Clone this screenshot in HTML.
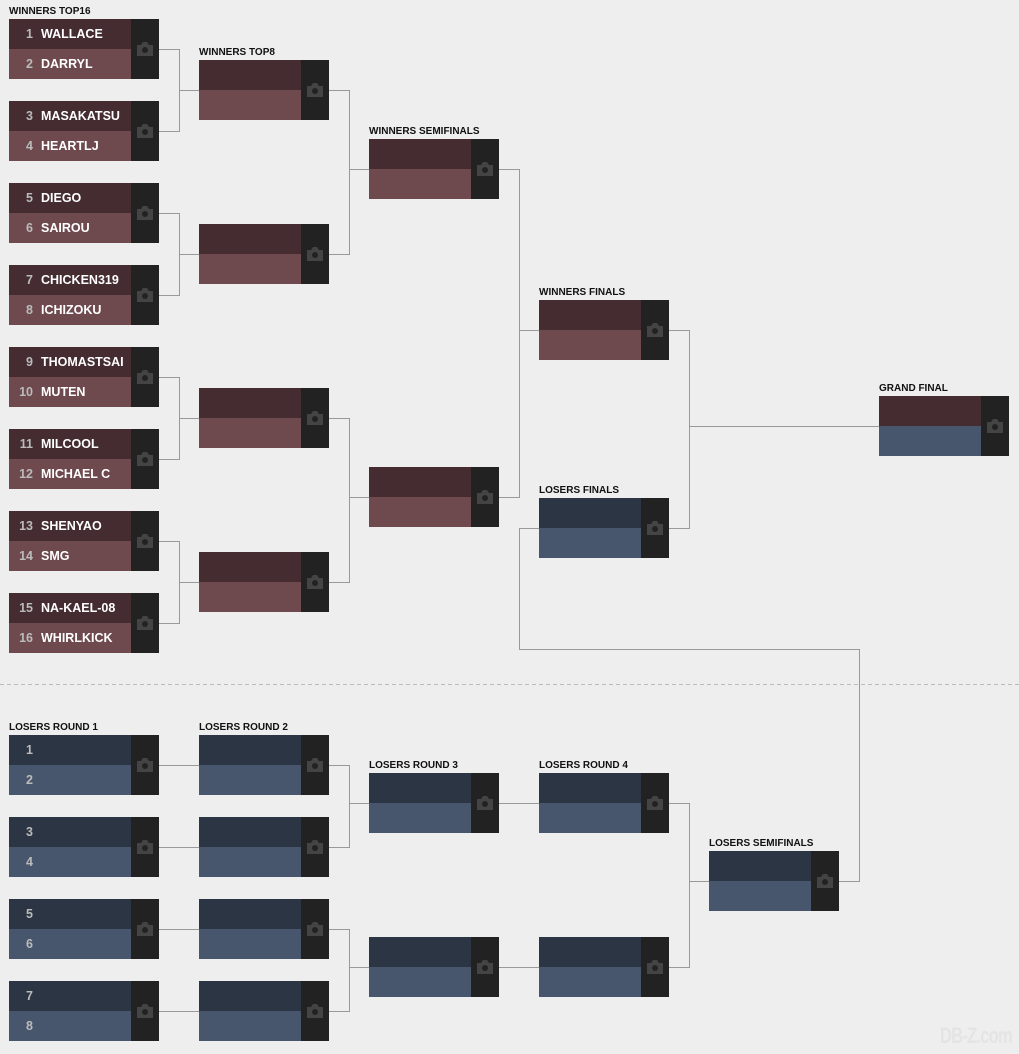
<!DOCTYPE html>
<html><head><meta charset="utf-8"><style>
body{margin:0;width:1019px;height:1054px;background:#eeeeee;position:relative;overflow:hidden;font-family:"Liberation Sans",sans-serif;}
.m{position:absolute;width:150px;height:60px;}
.m.s{width:130px;}
.t,.b{position:absolute;left:0;height:30px;width:122px;color:#fff;font-size:12.5px;font-weight:bold;line-height:30px;white-space:nowrap;overflow:hidden;}
.s .t,.s .b{width:102px;}
.t{top:0;background:#442c31;}
.b{top:30px;background:#6e4a4f;}
.L .t{background:#2c3544;}
.L .b{background:#47566c;}
.c{position:absolute;right:0;top:0;width:28px;height:60px;background:#222;}
.c svg{position:absolute;left:5px;top:22px;}
.n{display:inline-block;width:24px;text-align:right;color:#bbb;margin-right:8px;}
.lb{position:absolute;font-size:10px;font-weight:bold;color:#111;white-space:nowrap;}
</style></head><body>
<svg width="1019" height="1054" style="position:absolute;left:0;top:0" fill="none" stroke="#999" stroke-width="1">
<line x1="0" y1="684.5" x2="1019" y2="684.5" stroke="#bbb" stroke-dasharray="4,3"/>
<path d="M159 49.5H179.5V131.5H159M179.5 90.5H199"/>
<path d="M159 213.5H179.5V295.5H159M179.5 254.5H199"/>
<path d="M159 377.5H179.5V459.5H159M179.5 418.5H199"/>
<path d="M159 541.5H179.5V623.5H159M179.5 582.5H199"/>
<path d="M329 90.5H349.5V254.5H329M349.5 169.5H369"/>
<path d="M329 418.5H349.5V582.5H329M349.5 497.5H369"/>
<path d="M499 169.5H519.5V497.5H499M519.5 330.5H539"/>
<path d="M669 330.5H689.5V528.5H669M689.5 426.5H879"/>
<path d="M839 881.5H859.5V649.5H519.5V528.5H539"/>
<path d="M159 765.5H199M159 847.5H199M159 929.5H199M159 1011.5H199"/>
<path d="M329 765.5H349.5V847.5H329M349.5 803.5H369"/>
<path d="M329 929.5H349.5V1011.5H329M349.5 967.5H369"/>
<path d="M499 803.5H539M499 967.5H539"/>
<path d="M669 803.5H689.5V967.5H669M689.5 881.5H709"/>
</svg>

<div class="lb" style="left:9px;top:6px">WINNERS TOP16</div>
<div class="lb" style="left:199px;top:47px">WINNERS TOP8</div>
<div class="lb" style="left:369px;top:126px">WINNERS SEMIFINALS</div>
<div class="lb" style="left:539px;top:287px">WINNERS FINALS</div>
<div class="lb" style="left:539px;top:485px">LOSERS FINALS</div>
<div class="lb" style="left:879px;top:383px">GRAND FINAL</div>
<div class="lb" style="left:9px;top:722px">LOSERS ROUND 1</div>
<div class="lb" style="left:199px;top:722px">LOSERS ROUND 2</div>
<div class="lb" style="left:369px;top:760px">LOSERS ROUND 3</div>
<div class="lb" style="left:539px;top:760px">LOSERS ROUND 4</div>
<div class="lb" style="left:709px;top:838px">LOSERS SEMIFINALS</div>

<div class="m" style="left:9px;top:19px"><div class="t"><span class="n">1</span>WALLACE</div><div class="b"><span class="n">2</span>DARRYL</div><div class="c"><svg width="18" height="16" viewBox="0 0 18 16"><path d="M1 4h4l2-3h4l2 3h4v11H1z" fill="#444" stroke="none"/><circle cx="9" cy="9" r="3" fill="#222" stroke="none"/></svg></div></div>
<div class="m" style="left:9px;top:101px"><div class="t"><span class="n">3</span>MASAKATSU</div><div class="b"><span class="n">4</span>HEARTLJ</div><div class="c"><svg width="18" height="16" viewBox="0 0 18 16"><path d="M1 4h4l2-3h4l2 3h4v11H1z" fill="#444" stroke="none"/><circle cx="9" cy="9" r="3" fill="#222" stroke="none"/></svg></div></div>
<div class="m" style="left:9px;top:183px"><div class="t"><span class="n">5</span>DIEGO</div><div class="b"><span class="n">6</span>SAIROU</div><div class="c"><svg width="18" height="16" viewBox="0 0 18 16"><path d="M1 4h4l2-3h4l2 3h4v11H1z" fill="#444" stroke="none"/><circle cx="9" cy="9" r="3" fill="#222" stroke="none"/></svg></div></div>
<div class="m" style="left:9px;top:265px"><div class="t"><span class="n">7</span>CHICKEN319</div><div class="b"><span class="n">8</span>ICHIZOKU</div><div class="c"><svg width="18" height="16" viewBox="0 0 18 16"><path d="M1 4h4l2-3h4l2 3h4v11H1z" fill="#444" stroke="none"/><circle cx="9" cy="9" r="3" fill="#222" stroke="none"/></svg></div></div>
<div class="m" style="left:9px;top:347px"><div class="t"><span class="n">9</span>THOMASTSAI</div><div class="b"><span class="n">10</span>MUTEN</div><div class="c"><svg width="18" height="16" viewBox="0 0 18 16"><path d="M1 4h4l2-3h4l2 3h4v11H1z" fill="#444" stroke="none"/><circle cx="9" cy="9" r="3" fill="#222" stroke="none"/></svg></div></div>
<div class="m" style="left:9px;top:429px"><div class="t"><span class="n">11</span>MILCOOL</div><div class="b"><span class="n">12</span>MICHAEL C</div><div class="c"><svg width="18" height="16" viewBox="0 0 18 16"><path d="M1 4h4l2-3h4l2 3h4v11H1z" fill="#444" stroke="none"/><circle cx="9" cy="9" r="3" fill="#222" stroke="none"/></svg></div></div>
<div class="m" style="left:9px;top:511px"><div class="t"><span class="n">13</span>SHENYAO</div><div class="b"><span class="n">14</span>SMG</div><div class="c"><svg width="18" height="16" viewBox="0 0 18 16"><path d="M1 4h4l2-3h4l2 3h4v11H1z" fill="#444" stroke="none"/><circle cx="9" cy="9" r="3" fill="#222" stroke="none"/></svg></div></div>
<div class="m" style="left:9px;top:593px"><div class="t"><span class="n">15</span>NA-KAEL-08</div><div class="b"><span class="n">16</span>WHIRLKICK</div><div class="c"><svg width="18" height="16" viewBox="0 0 18 16"><path d="M1 4h4l2-3h4l2 3h4v11H1z" fill="#444" stroke="none"/><circle cx="9" cy="9" r="3" fill="#222" stroke="none"/></svg></div></div>

<div class="m s" style="left:199px;top:60px"><div class="t"></div><div class="b"></div><div class="c"><svg width="18" height="16" viewBox="0 0 18 16"><path d="M1 4h4l2-3h4l2 3h4v11H1z" fill="#444" stroke="none"/><circle cx="9" cy="9" r="3" fill="#222" stroke="none"/></svg></div></div>
<div class="m s" style="left:199px;top:224px"><div class="t"></div><div class="b"></div><div class="c"><svg width="18" height="16" viewBox="0 0 18 16"><path d="M1 4h4l2-3h4l2 3h4v11H1z" fill="#444" stroke="none"/><circle cx="9" cy="9" r="3" fill="#222" stroke="none"/></svg></div></div>
<div class="m s" style="left:199px;top:388px"><div class="t"></div><div class="b"></div><div class="c"><svg width="18" height="16" viewBox="0 0 18 16"><path d="M1 4h4l2-3h4l2 3h4v11H1z" fill="#444" stroke="none"/><circle cx="9" cy="9" r="3" fill="#222" stroke="none"/></svg></div></div>
<div class="m s" style="left:199px;top:552px"><div class="t"></div><div class="b"></div><div class="c"><svg width="18" height="16" viewBox="0 0 18 16"><path d="M1 4h4l2-3h4l2 3h4v11H1z" fill="#444" stroke="none"/><circle cx="9" cy="9" r="3" fill="#222" stroke="none"/></svg></div></div>
<div class="m s" style="left:369px;top:139px"><div class="t"></div><div class="b"></div><div class="c"><svg width="18" height="16" viewBox="0 0 18 16"><path d="M1 4h4l2-3h4l2 3h4v11H1z" fill="#444" stroke="none"/><circle cx="9" cy="9" r="3" fill="#222" stroke="none"/></svg></div></div>
<div class="m s" style="left:369px;top:467px"><div class="t"></div><div class="b"></div><div class="c"><svg width="18" height="16" viewBox="0 0 18 16"><path d="M1 4h4l2-3h4l2 3h4v11H1z" fill="#444" stroke="none"/><circle cx="9" cy="9" r="3" fill="#222" stroke="none"/></svg></div></div>
<div class="m s" style="left:539px;top:300px"><div class="t"></div><div class="b"></div><div class="c"><svg width="18" height="16" viewBox="0 0 18 16"><path d="M1 4h4l2-3h4l2 3h4v11H1z" fill="#444" stroke="none"/><circle cx="9" cy="9" r="3" fill="#222" stroke="none"/></svg></div></div>
<div class="m s L" style="left:539px;top:498px"><div class="t"></div><div class="b"></div><div class="c"><svg width="18" height="16" viewBox="0 0 18 16"><path d="M1 4h4l2-3h4l2 3h4v11H1z" fill="#444" stroke="none"/><circle cx="9" cy="9" r="3" fill="#222" stroke="none"/></svg></div></div>
<div class="m s" style="left:879px;top:396px"><div class="t"></div><div class="b" style="background:#47566c"></div><div class="c"><svg width="18" height="16" viewBox="0 0 18 16"><path d="M1 4h4l2-3h4l2 3h4v11H1z" fill="#444" stroke="none"/><circle cx="9" cy="9" r="3" fill="#222" stroke="none"/></svg></div></div>

<div class="m L" style="left:9px;top:735px"><div class="t"><span class="n">1</span></div><div class="b"><span class="n">2</span></div><div class="c"><svg width="18" height="16" viewBox="0 0 18 16"><path d="M1 4h4l2-3h4l2 3h4v11H1z" fill="#444" stroke="none"/><circle cx="9" cy="9" r="3" fill="#222" stroke="none"/></svg></div></div>
<div class="m L" style="left:9px;top:817px"><div class="t"><span class="n">3</span></div><div class="b"><span class="n">4</span></div><div class="c"><svg width="18" height="16" viewBox="0 0 18 16"><path d="M1 4h4l2-3h4l2 3h4v11H1z" fill="#444" stroke="none"/><circle cx="9" cy="9" r="3" fill="#222" stroke="none"/></svg></div></div>
<div class="m L" style="left:9px;top:899px"><div class="t"><span class="n">5</span></div><div class="b"><span class="n">6</span></div><div class="c"><svg width="18" height="16" viewBox="0 0 18 16"><path d="M1 4h4l2-3h4l2 3h4v11H1z" fill="#444" stroke="none"/><circle cx="9" cy="9" r="3" fill="#222" stroke="none"/></svg></div></div>
<div class="m L" style="left:9px;top:981px"><div class="t"><span class="n">7</span></div><div class="b"><span class="n">8</span></div><div class="c"><svg width="18" height="16" viewBox="0 0 18 16"><path d="M1 4h4l2-3h4l2 3h4v11H1z" fill="#444" stroke="none"/><circle cx="9" cy="9" r="3" fill="#222" stroke="none"/></svg></div></div>
<div class="m s L" style="left:199px;top:735px"><div class="t"></div><div class="b"></div><div class="c"><svg width="18" height="16" viewBox="0 0 18 16"><path d="M1 4h4l2-3h4l2 3h4v11H1z" fill="#444" stroke="none"/><circle cx="9" cy="9" r="3" fill="#222" stroke="none"/></svg></div></div>
<div class="m s L" style="left:199px;top:817px"><div class="t"></div><div class="b"></div><div class="c"><svg width="18" height="16" viewBox="0 0 18 16"><path d="M1 4h4l2-3h4l2 3h4v11H1z" fill="#444" stroke="none"/><circle cx="9" cy="9" r="3" fill="#222" stroke="none"/></svg></div></div>
<div class="m s L" style="left:199px;top:899px"><div class="t"></div><div class="b"></div><div class="c"><svg width="18" height="16" viewBox="0 0 18 16"><path d="M1 4h4l2-3h4l2 3h4v11H1z" fill="#444" stroke="none"/><circle cx="9" cy="9" r="3" fill="#222" stroke="none"/></svg></div></div>
<div class="m s L" style="left:199px;top:981px"><div class="t"></div><div class="b"></div><div class="c"><svg width="18" height="16" viewBox="0 0 18 16"><path d="M1 4h4l2-3h4l2 3h4v11H1z" fill="#444" stroke="none"/><circle cx="9" cy="9" r="3" fill="#222" stroke="none"/></svg></div></div>
<div class="m s L" style="left:369px;top:773px"><div class="t"></div><div class="b"></div><div class="c"><svg width="18" height="16" viewBox="0 0 18 16"><path d="M1 4h4l2-3h4l2 3h4v11H1z" fill="#444" stroke="none"/><circle cx="9" cy="9" r="3" fill="#222" stroke="none"/></svg></div></div>
<div class="m s L" style="left:369px;top:937px"><div class="t"></div><div class="b"></div><div class="c"><svg width="18" height="16" viewBox="0 0 18 16"><path d="M1 4h4l2-3h4l2 3h4v11H1z" fill="#444" stroke="none"/><circle cx="9" cy="9" r="3" fill="#222" stroke="none"/></svg></div></div>
<div class="m s L" style="left:539px;top:773px"><div class="t"></div><div class="b"></div><div class="c"><svg width="18" height="16" viewBox="0 0 18 16"><path d="M1 4h4l2-3h4l2 3h4v11H1z" fill="#444" stroke="none"/><circle cx="9" cy="9" r="3" fill="#222" stroke="none"/></svg></div></div>
<div class="m s L" style="left:539px;top:937px"><div class="t"></div><div class="b"></div><div class="c"><svg width="18" height="16" viewBox="0 0 18 16"><path d="M1 4h4l2-3h4l2 3h4v11H1z" fill="#444" stroke="none"/><circle cx="9" cy="9" r="3" fill="#222" stroke="none"/></svg></div></div>
<div class="m s L" style="left:709px;top:851px"><div class="t"></div><div class="b"></div><div class="c"><svg width="18" height="16" viewBox="0 0 18 16"><path d="M1 4h4l2-3h4l2 3h4v11H1z" fill="#444" stroke="none"/><circle cx="9" cy="9" r="3" fill="#222" stroke="none"/></svg></div></div>

<div style="position:absolute;left:940px;top:1024px;font-size:22px;line-height:24px;white-space:nowrap;font-weight:bold;color:#e4e4e4;letter-spacing:-1px;transform:scaleX(0.75);transform-origin:left">DB-Z.com</div>
</body></html>
